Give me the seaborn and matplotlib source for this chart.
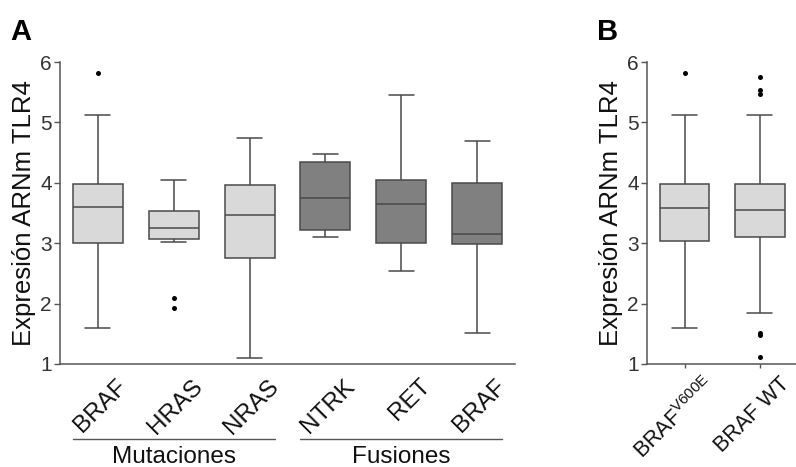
import numpy as np
import pandas as pd
import matplotlib
matplotlib.use("Agg")
import matplotlib.pyplot as plt
import matplotlib.transforms as mtransforms
import seaborn as sns

# ---------------- data ----------------
# Panel A
a_keys = ["BRAF_mut", "HRAS", "NRAS", "NTRK", "RET", "BRAF_fus"]
a_labels = ["BRAF", "HRAS", "NRAS", "NTRK", "RET", "BRAF"]
a_whislo = [1.59, 3.02, 1.10, 3.11, 2.54, 1.51]
a_q1     = [3.01, 3.07, 2.75, 3.22, 3.00, 2.99]
a_med    = [3.60, 3.25, 3.47, 3.75, 3.65, 3.16]
a_q3     = [3.98, 3.53, 3.96, 4.35, 4.04, 3.99]
a_whishi = [5.12, 4.04, 4.74, 4.48, 5.45, 4.69]
a_fill   = ["#d9d9d9", "#d9d9d9", "#d9d9d9", "#808080", "#808080", "#808080"]
a_out_group = ["BRAF_mut", "HRAS", "HRAS"]
a_out_value = [5.81, 2.10, 1.93]
a_groups = ["Mutaciones", "Fusiones"]

# Panel B
b_keys = ["V600E", "WT"]
b_labels = ["BRAF$^{\\mathregular{V600E}}$", "BRAF WT"]
b_whislo = [1.59, 1.84]
b_q1     = [3.03, 3.11]
b_med    = [3.59, 3.55]
b_q3     = [3.98, 3.98]
b_whishi = [5.13, 5.13]
b_fill   = ["#d9d9d9", "#d9d9d9"]
b_out_group = ["V600E", "WT", "WT", "WT", "WT", "WT", "WT"]
b_out_value = [5.81, 5.75, 5.54, 5.47, 1.51, 1.48, 1.12]

ylabel = "Expresión ARNm TLR4"


def summary_frame(keys, lo, q1, med, q3, hi):
    rows = []
    for k, a, b, c, d, e in zip(keys, lo, q1, med, q3, hi):
        for v in (a, b, c, d, e):
            rows.append({"g": k, "v": v})
    return pd.DataFrame(rows)


sns.set_theme(style="ticks")
plt.rcParams["font.family"] = ["Liberation Sans", "DejaVu Sans"]

fig = plt.figure(figsize=(7.96, 4.67), dpi=100)
axA = fig.add_axes([0.0754, 0.2206, 0.5716, 0.6466])
axB = fig.add_axes([0.8128, 0.2206, 0.1890, 0.6466])

line_c = "#4a4a4a"
box_kw = dict(whis=(0, 100), showfliers=False, width=0.66, linewidth=1.1,
              linecolor=line_c, legend=False)


def draw(ax, keys, lo, q1, med, q3, hi, fill, og, ov):
    df = summary_frame(keys, lo, q1, med, q3, hi)
    sns.boxplot(data=df, x="g", y="v", hue="g", order=keys, hue_order=keys,
                palette=dict(zip(keys, fill)), ax=ax, saturation=1, **box_kw)
    od = pd.DataFrame({"g": og, "v": ov})
    sns.stripplot(data=od, x="g", y="v", order=keys, jitter=False,
                  color="black", size=3.6, ax=ax, zorder=5)
    ax.set_ylim(1, 6)
    ax.set_xlim(-0.5, len(keys) - 0.5)
    ax.set_yticks([1, 2, 3, 4, 5, 6])
    ax.set_xlabel("")
    ax.set_ylabel(ylabel, fontsize=18.5, color="#111111", labelpad=3)
    sns.despine(ax=ax)
    for s in ("left", "bottom"):
        ax.spines[s].set_color("#555555")
        ax.spines[s].set_linewidth(1.1)
    ax.tick_params(axis="y", labelsize=15, length=4, width=1, color="#555555",
                   labelcolor="#333333", pad=2)


draw(axA, a_keys, a_whislo, a_q1, a_med, a_q3, a_whishi, a_fill,
     a_out_group, a_out_value)
draw(axB, b_keys, b_whislo, b_q1, b_med, b_q3, b_whishi, b_fill,
     b_out_group, b_out_value)

shiftA = mtransforms.ScaledTranslation(18 / 100, 0, fig.dpi_scale_trans)
shiftB = mtransforms.ScaledTranslation(19 / 100, 0, fig.dpi_scale_trans)

axA.set_xticks(range(len(a_keys)))
axA.set_xticklabels(a_labels, rotation=45, ha="right", rotation_mode="anchor",
                    fontsize=17.5, color="#111111")
axA.tick_params(axis="x", length=0, pad=8)
for lab in axA.get_xticklabels():
    lab.set_transform(lab.get_transform() + shiftA)

axB.set_xticks(range(len(b_keys)))
axB.set_xticklabels(b_labels, rotation=45, ha="right", rotation_mode="anchor",
                    fontsize=15.5, color="#111111")
axB.tick_params(axis="x", length=3, width=1, color="#555555", pad=4)
for lab in axB.get_xticklabels():
    lab.set_transform(lab.get_transform() + shiftB)

# group brackets under panel A
trans = mtransforms.blended_transform_factory(axA.transData, axA.transAxes)
spans = [(0, 2), (3, 5)]
for name, (i0, i1) in zip(a_groups, spans):
    axA.plot([i0 - 0.33, i1 + 0.33], [-0.248, -0.248], transform=trans,
             color="#555555", lw=1.0, clip_on=False)
    axA.text((i0 + i1) / 2, -0.27, name, transform=trans, ha="center",
             va="top", fontsize=17.5, color="#111111")

fig.text(0.013, 0.915, "A", fontsize=21, fontweight="bold", color="black")
fig.text(0.750, 0.915, "B", fontsize=21, fontweight="bold", color="black")

fig.savefig("out.png", dpi=100)
